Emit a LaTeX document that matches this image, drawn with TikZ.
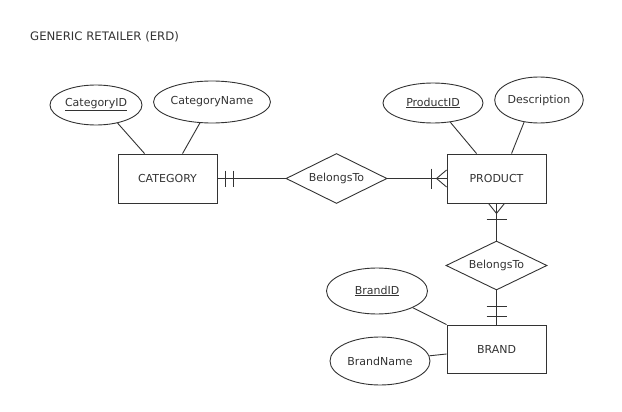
\documentclass[tikz,border=0pt]{standalone}
\usepackage{fontspec}
\setmainfont{DejaVu Sans}
\usetikzlibrary{shapes.geometric,calc}
\definecolor{ink}{HTML}{333333}
\tikzset{
  base/.style={draw=ink, line width=0.9pt, text=ink, font=\fontsize{11}{13}\selectfont, inner sep=0pt},
  entity/.style={base, rectangle, minimum width=99pt, minimum height=49pt},
  attr/.style={base, ellipse},
  rel/.style={base, diamond, aspect=2, minimum width=101pt, minimum height=50pt},
  conn/.style={draw=ink, line width=0.9pt},
}
\begin{document}
\begin{tikzpicture}[x=1pt,y=-1pt]
\useasboundingbox (0,0) rectangle (622,412);
\node[anchor=west, text=ink, font=\fontsize{11.7}{14}\selectfont, inner sep=0pt] (title) at (30,37) {GENERIC RETAILER (ERD)};

% entities
\node[entity] (cat) at (167.5,178.5) {CATEGORY};
\node[entity] (prod) at (496.5,178.5) {PRODUCT};
\node[entity, minimum height=48pt] (brand) at (496.5,349) {BRAND};

% relationships
\node[rel] (rel1) at (336.5,178.5) {BelongsTo};
\node[rel, minimum height=49pt] (rel2) at (496.5,265.5) {BelongsTo};

% attributes
\node[attr, minimum width=92pt, minimum height=40pt] (catid) at (96,105) {\underline{CategoryID}};
\node[attr, minimum width=100pt, minimum height=42pt] (catname) at (212,102) {CategoryName};
\node[attr, minimum width=100pt, minimum height=40pt] (prodid) at (433,103) {\underline{ProductID}};
\node[attr, minimum width=87pt, minimum height=46pt] (desc) at (539,100) {Description};
\node[attr, minimum width=101pt, minimum height=46pt] (brandid) at (377,291) {\underline{BrandID}};
\node[attr, minimum width=100pt, minimum height=48pt] (brandname) at (380,361) {BrandName};

% attribute links
\draw[conn] (catid.-40) -- ([xshift=27pt]cat.north west);
\draw[conn] (catname.-120) -- ([xshift=65pt]cat.north west);
\draw[conn] (prodid.-48) -- ([xshift=30pt]prod.north west);
\draw[conn] (desc.-124) -- ([xshift=65pt]prod.north west);
\draw[conn] (brandid.-25) -- (brand.north west);
\draw[conn] (brandname.6) -- ([yshift=-5pt]brand.west);

% relationship links
\draw[conn] (cat.east) -- (rel1.west);
\draw[conn] (rel1.east) -- (prod.west);
\draw[conn] (prod.south) -- (rel2.north);
\draw[conn] (rel2.south) -- (brand.north);

% cardinality: CATEGORY side (one and only one)
\draw[conn] ([xshift=8pt,yshift=8pt]cat.east) -- ++(0,16);
\draw[conn] ([xshift=16pt,yshift=8pt]cat.east) -- ++(0,16);
% PRODUCT side (one or many)
\draw[conn] ([xshift=-15pt,yshift=10pt]prod.west) -- ++(0,20);
\draw[conn] ([yshift=8.5pt]prod.west) -- ([xshift=-10pt]prod.west) -- ([yshift=-8.5pt]prod.west);
% PRODUCT bottom (one or many)
\draw[conn] ([xshift=-8pt]prod.south) -- ([yshift=-10pt]prod.south) -- ([xshift=8pt]prod.south);
\draw[conn] ([xshift=-10pt,yshift=-16pt]prod.south) -- ++(20,0);
% BRAND side (one and only one)
\draw[conn] ([xshift=-10pt,yshift=8pt]brand.north) -- ++(20,0);
\draw[conn] ([xshift=-10pt,yshift=18pt]brand.north) -- ++(20,0);
\end{tikzpicture}
\end{document}
